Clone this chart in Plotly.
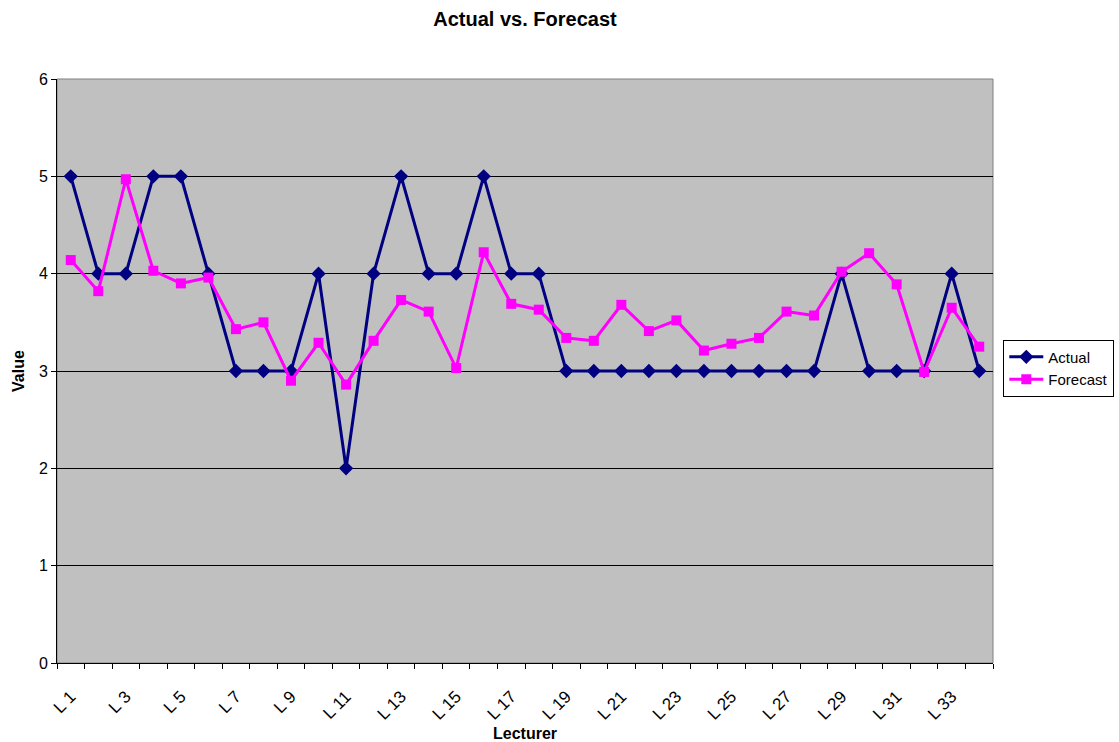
import plotly.graph_objects as go

# Lecturer categories and the two series
lecturers = [f"L {i}" for i in range(1, 35)]
actual = [5, 4, 4, 5, 5, 4, 3, 3, 3, 4, 2, 4, 5, 4, 4, 5, 4, 4, 3, 3,
          3, 3, 3, 3, 3, 3, 3, 3, 4, 3, 3, 3, 4, 3]
forecast = [4.14, 3.82, 4.97, 4.03, 3.90, 3.96, 3.43, 3.50, 2.90, 3.29,
            2.86, 3.31, 3.73, 3.61, 3.03, 4.22, 3.69, 3.63, 3.34, 3.31,
            3.68, 3.41, 3.52, 3.21, 3.28, 3.34, 3.61, 3.57, 4.02, 4.21,
            3.89, 2.99, 3.65, 3.25]

pos = list(range(1, len(lecturers) + 1))
label_pos = pos[::2]
label_text = lecturers[::2]

FONT = "Liberation Sans, Arial, sans-serif"

fig = go.Figure()
fig.add_trace(go.Scatter(
    x=pos, y=actual, name="Actual", mode="lines+markers",
    line=dict(color="#000080", width=3),
    marker=dict(symbol="diamond", size=11, color="#000080"),
    text=lecturers, hovertemplate="%{text}: %{y}<extra>Actual</extra>",
))
fig.add_trace(go.Scatter(
    x=pos, y=forecast, name="Forecast", mode="lines+markers",
    line=dict(color="#FF00FF", width=3),
    marker=dict(symbol="square", size=10, color="#FF00FF"),
    text=lecturers, hovertemplate="%{text}: %{y}<extra>Forecast</extra>",
))

fig.update_layout(
    width=1119, height=742,
    margin=dict(l=57, r=126, t=79, b=79, autoexpand=False),
    paper_bgcolor="white",
    plot_bgcolor="#C0C0C0",
    font=dict(family=FONT, size=16, color="black"),
    title=dict(text="<b>Actual vs. Forecast</b>", x=0.5, xref="paper",
               y=0.975, yanchor="middle", font=dict(size=20)),
    showlegend=True,
    legend=dict(x=1.011, xanchor="left", y=0.505, yanchor="middle",
                bgcolor="white", bordercolor="black", borderwidth=1,
                font=dict(size=15), tracegroupgap=0, itemwidth=34),
    shapes=[dict(type="rect", xref="paper", yref="paper", x0=0, x1=1,
                 y0=0, y1=1, line=dict(color="#808080", width=1),
                 layer="below")],
)

fig.update_xaxes(
    range=[0.5, len(lecturers) + 0.5],
    tickmode="array", tickvals=label_pos, ticktext=label_text,
    tickangle=-45, ticks="", showgrid=False, zeroline=False,
    showline=True, linecolor="black", linewidth=1,
    ticklabelstandoff=16,
    minor=dict(tick0=0.5, dtick=1, ticks="outside", ticklen=5,
               tickcolor="black", showgrid=False),
    title=dict(text="<b>Lecturer</b>", font=dict(size=16), standoff=8),
    tickfont=dict(size=17),
)
fig.update_yaxes(
    range=[0, 6], dtick=1, ticks="outside", ticklen=5, tickcolor="black",
    showgrid=True, gridcolor="#000000", gridwidth=1, zeroline=False,
    showline=True, linecolor="black", linewidth=1,
    title=dict(text="<b>Value</b>", font=dict(size=16), standoff=10),
    tickfont=dict(size=16),
)

fig.write_html("out.html")
